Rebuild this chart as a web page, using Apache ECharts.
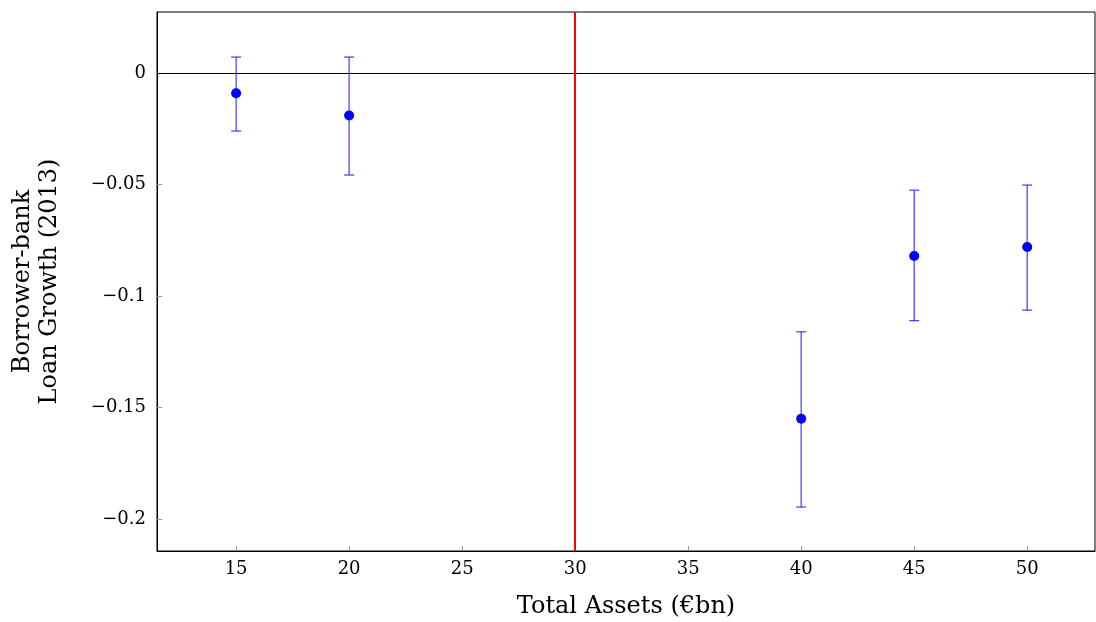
<!DOCTYPE html>
<html>
<head>
<meta charset="utf-8">
<script src="https://cdn.jsdelivr.net/npm/echarts@6/dist/echarts.min.js"></script>
<style>
  html, body { margin: 0; padding: 0; background: #fff; }
  #chart { width: 1096px; height: 622px; }
</style>
</head>
<body>
<div id="chart"></div>
<script>
// data
var assets = [15, 20, 40, 45, 50];
var growth = [-0.009, -0.019, -0.155, -0.082, -0.078];
var upper = [0.0072, 0.0072, -0.116, -0.0525, -0.0502];
var lower = [-0.026, -0.0457, -0.1946, -0.111, -0.1063];
var xTicks = [15, 20, 25, 30, 35, 40, 45, 50];
var yTicks = [0, -0.05, -0.1, -0.15, -0.2];
var cutoff = 30;

var font = '"DejaVu Serif", "Liberation Serif", serif';

var errData = assets.map(function (x, i) { return [x, lower[i], upper[i]]; });
var pointData = assets.map(function (x, i) { return [x, growth[i]]; });

function fmtY(v) {
  if (v === 0) return '0';
  var s = String(Math.abs(v));
  return (v < 0 ? '\u2212' : '') + s;
}

var chart = echarts.init(document.getElementById('chart'));
chart.setOption({
  animation: false,
  backgroundColor: '#fff',
  grid: {
    left: 157, right: 1, top: 12, bottom: 71,
    show: true, borderColor: '#000', borderWidth: 1,
    containLabel: false, outerBoundsMode: 'none'
  },
  xAxis: {
    type: 'value', min: 11.5, max: 53,
    name: 'Total Assets (\u20acbn)', nameLocation: 'middle', nameGap: 44,
    nameTextStyle: { fontFamily: font, fontSize: 24, color: '#000' },
    axisLine: { show: true, onZero: false, lineStyle: { color: '#000' } },
    axisTick: { show: true, inside: true, length: 5, customValues: xTicks, lineStyle: { color: '#999' } },
    axisLabel: { customValues: xTicks, fontFamily: font, fontSize: 18, color: '#000', margin: 9 },
    splitLine: { show: false }
  },
  yAxis: {
    type: 'value', min: -0.2143, max: 0.0274,
    name: 'Borrower-bank\nLoan Growth (2013)', nameLocation: 'middle', nameGap: 94,
    nameTextStyle: { fontFamily: font, fontSize: 24, color: '#000', lineHeight: 27 },
    axisLine: { show: true, onZero: false, lineStyle: { color: '#000' } },
    axisTick: { show: true, inside: true, length: 5, customValues: yTicks, lineStyle: { color: '#999' } },
    axisLabel: { customValues: yTicks, formatter: fmtY, fontFamily: font, fontSize: 18, color: '#000', margin: 11 },
    splitLine: { show: false }
  },
  series: [
    {
      type: 'custom',
      data: errData,
      z: 2,
      renderItem: function (params, api) {
        var x = api.value(0);
        var lo = api.coord([x, api.value(1)]);
        var hi = api.coord([x, api.value(2)]);
        var w = 5;
        var st = { stroke: 'rgba(0,0,255,0.7)', lineWidth: 1.3 };
        return {
          type: 'group',
          children: [
            { type: 'line', shape: { x1: lo[0], y1: lo[1], x2: hi[0], y2: hi[1] }, style: st },
            { type: 'line', shape: { x1: lo[0] - w, y1: lo[1], x2: lo[0] + w, y2: lo[1] }, style: st },
            { type: 'line', shape: { x1: hi[0] - w, y1: hi[1], x2: hi[0] + w, y2: hi[1] }, style: st }
          ]
        };
      }
    },
    {
      type: 'scatter',
      data: pointData,
      symbol: 'circle',
      symbolSize: 10,
      z: 3,
      itemStyle: { color: '#0000ff', opacity: 1 },
      markLine: {
        silent: true,
        symbol: 'none',
        label: { show: false },
        data: [
          { yAxis: 0, lineStyle: { color: '#000', width: 1, type: 'solid' } },
          { xAxis: cutoff, lineStyle: { color: '#ff0000', width: 2, type: 'solid' } }
        ]
      }
    }
  ]
});
</script>
</body>
</html>
